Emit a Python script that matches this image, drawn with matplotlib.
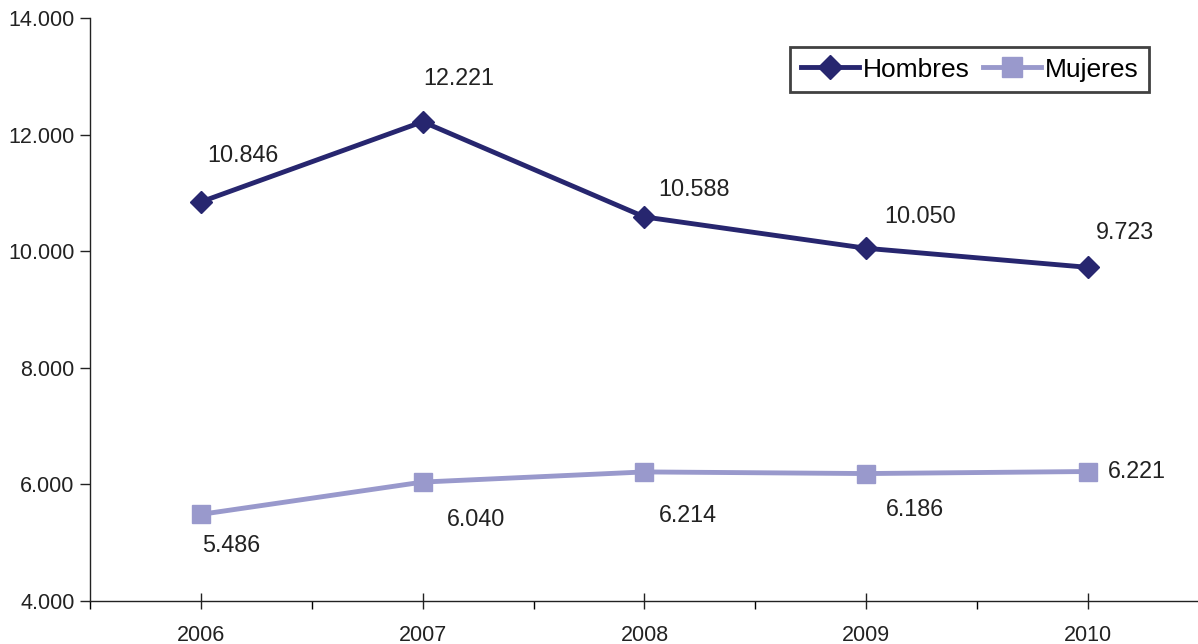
import matplotlib
matplotlib.use("Agg")
import matplotlib.pyplot as plt
from matplotlib.ticker import FuncFormatter, FixedLocator

years = ["2006", "2007", "2008", "2009", "2010"]
hombres = [10846, 12221, 10588, 10050, 9723]
mujeres = [5486, 6040, 6214, 6186, 6221]
hombres_offsets = [(42, 46), (36, 43), (50, 27), (54, 32), (37, 35)]
mujeres_offsets = [(30, -31), (53, -37), (43, -44), (49, -36), (49, 0)]

plt.rcParams['font.family'] = ['Liberation Sans', 'DejaVu Sans']

fig = plt.figure(figsize=(11.98, 6.44), dpi=100)
ax = fig.add_axes([90/1198, 43/644, 1 - 90/1198 + 0.01, 583/644])

c_h = '#27266f'
c_m = '#9999cc'
x = list(range(len(years)))
ax.plot(x, hombres, color=c_h, lw=3.5, marker='D', ms=11, label='Hombres', zorder=3)
ax.plot(x, mujeres, color=c_m, lw=3.5, marker='s', ms=13, label='Mujeres', zorder=3)

def fmt(v):
    return f"{v:,.0f}".replace(",", ".")

for xi, v, (dx, dy) in zip(x, hombres, hombres_offsets):
    ax.annotate(fmt(v), (xi, v), xytext=(dx * 0.72, dy * 0.72), textcoords='offset points',
                ha='center', va='center', fontsize=16.8, color='#222222')
for xi, v, (dx, dy) in zip(x, mujeres, mujeres_offsets):
    ax.annotate(fmt(v), (xi, v), xytext=(dx * 0.72, dy * 0.72), textcoords='offset points',
                ha='center', va='center', fontsize=16.8, color='#222222')

ax.set_xlim(-0.5, 4.5 + 0.01 * 5)
ax.set_ylim(4000, 14000)
ax.set_yticks(range(4000, 14001, 2000))
ax.yaxis.set_major_formatter(FuncFormatter(lambda v, p: fmt(v)))
ax.set_xticks(x)
ax.set_xticklabels(years)
ax.xaxis.set_minor_locator(FixedLocator([-0.5, 0.5, 1.5, 2.5, 3.5, 4.5]))
ax.tick_params(axis='x', which='major', direction='inout', length=12, width=1, labelsize=15.5, pad=11, colors='#222222')
ax.tick_params(axis='x', which='minor', direction='out', length=6, width=1)
ax.tick_params(axis='y', direction='out', length=7, width=1, labelsize=15.5, pad=4, colors='#222222')
for s in ['top', 'right']:
    ax.spines[s].set_visible(False)
for s in ['left', 'bottom']:
    ax.spines[s].set_color('#222222')
    ax.spines[s].set_linewidth(1)

leg = ax.legend(loc='upper left', ncol=2, fontsize=19, frameon=True, fancybox=False, handlelength=2.2,
                handletextpad=0.15, columnspacing=0.5, borderpad=0.4, borderaxespad=0,
                markerscale=1.1)
leg.set_bbox_to_anchor((790/1198, 1 - 47/644), transform=fig.transFigure)
leg.get_frame().set_edgecolor('#111111')
leg.get_frame().set_linewidth(2)

fig.savefig('out.png', dpi=100)
